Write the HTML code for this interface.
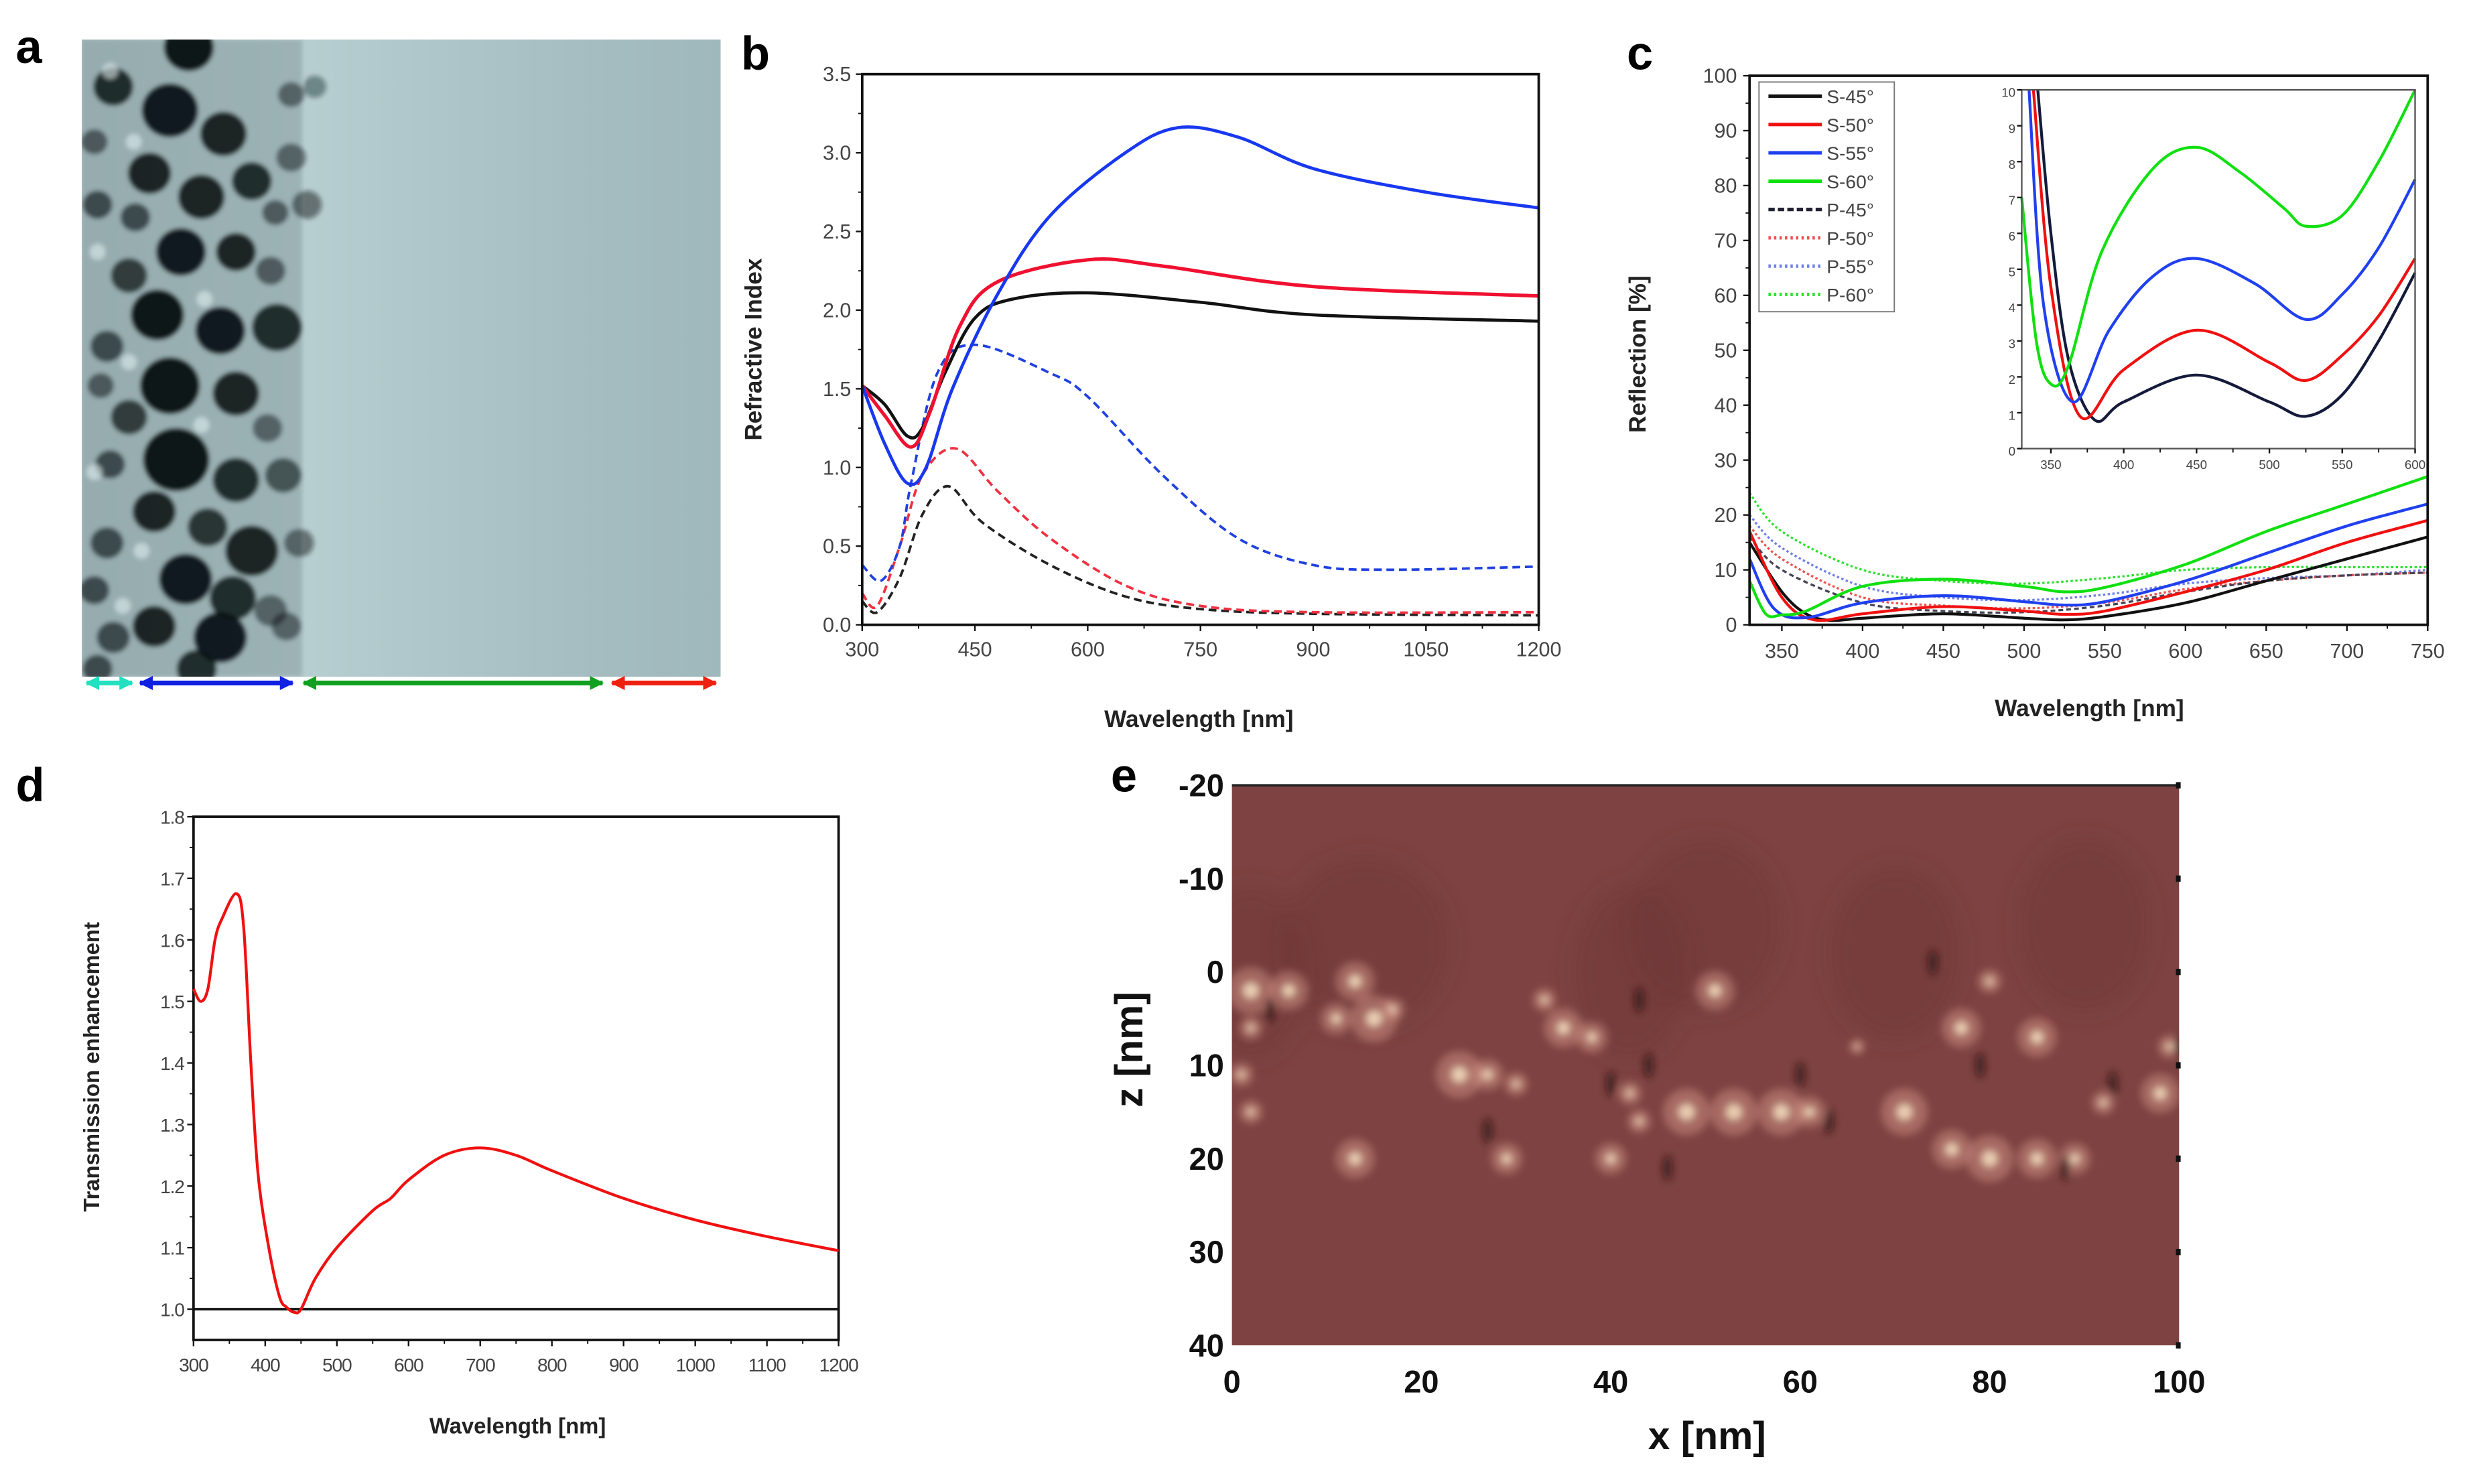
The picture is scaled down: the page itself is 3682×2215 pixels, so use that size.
<!DOCTYPE html>
<html><head><meta charset="utf-8">
<style>
html,body{margin:0;padding:0;background:#fff;}
svg{display:block;}
text{font-family:"Liberation Sans",sans-serif;}
.tick{font-size:13px;fill:#444;}
.ttl{font-size:14px;font-weight:bold;fill:#222;}
.plab{font-size:30px;font-weight:bold;fill:#000;}
</style></head>
<body>
<svg id="fig" width="3682" height="2215" viewBox="0 0 1568 943" xmlns="http://www.w3.org/2000/svg">
<defs>
<linearGradient id="temg" x1="0" x2="1" y1="0" y2="0">
<stop offset="0" stop-color="#a9bfc2"/><stop offset="0.33" stop-color="#b8cfd2"/><stop offset="0.45" stop-color="#b2cacd"/><stop offset="0.8" stop-color="#a5bdc1"/><stop offset="1" stop-color="#9fb8bc"/>
</linearGradient>
<filter id="blur2"><feGaussianBlur stdDeviation="2.5"/></filter>
<filter id="blur1"><feGaussianBlur stdDeviation="1.5"/></filter>
<filter id="blur6"><feGaussianBlur stdDeviation="7"/></filter>
<clipPath id="clipA"><rect x="52" y="25" width="406" height="405"/></clipPath>
<clipPath id="clipE"><rect x="783" y="499" width="602" height="356"/></clipPath>
<marker id="ah" viewBox="0 0 10 10" refX="9" refY="5" markerWidth="3" markerHeight="3" orient="auto-start-reverse"><path d="M0,0L10,5L0,10z" fill="context-stroke"/></marker>
</defs>

<text class="plab" x="10" y="40">a</text>
<text class="plab" x="471" y="44">b</text>
<text class="plab" x="1034" y="44">c</text>
<text class="plab" x="10" y="509">d</text>
<text class="plab" x="706" y="503">e</text>

<g id="panelA">
<rect x="52" y="25" width="406" height="405" fill="url(#temg)"/>
<g id="blobs" clip-path="url(#clipA)" filter="url(#blur1)"></g>
</g>
<g id="arrows"></g>

<g id="panelB"></g>
<g id="panelC"></g>
<g id="panelD"></g>
<g id="panelE"></g>
</svg>
<script>
const NS="http://www.w3.org/2000/svg";
// ---- Panel b data ----
const bBlackSolid=[[300,1.52],[330,1.4],[360,1.2],[380,1.25],[410,1.6],[450,1.95],[500,2.07],[600,2.11],[750,2.05],[900,1.97],[1200,1.93]];
const bRedSolid=[[300,1.52],[330,1.33],[365,1.13],[390,1.35],[430,1.9],[480,2.18],[600,2.32],[700,2.28],[900,2.15],[1200,2.09]];
const bBlueSolid=[[300,1.52],[330,1.15],[360,0.9],[385,1.0],[420,1.5],[480,2.1],[550,2.6],[650,3.0],[720,3.16],[800,3.1],[900,2.9],[1050,2.75],[1200,2.65]];
const bBlueDash=[[300,0.38],[325,0.28],[350,0.5],[365,0.9],[400,1.6],[450,1.78],[550,1.6],[600,1.45],[700,0.95],[800,0.55],[900,0.38],[1000,0.35],[1200,0.37]];
const bRedDash=[[300,0.2],[320,0.12],[350,0.5],[380,0.95],[425,1.12],[480,0.85],[550,0.55],[650,0.25],[750,0.12],[900,0.08],[1200,0.08]];
const bBlackDash=[[300,0.15],[320,0.08],[350,0.3],[380,0.7],[415,0.88],[460,0.65],[550,0.38],[650,0.18],[750,0.1],[900,0.07],[1200,0.06]];
const bXTicks=[300,450,600,750,900,1050,1200];
const bYTicks=[0,0.5,1,1.5,2,2.5,3,3.5];
// ---- Panel c data ----
const cS45=[[330,15],[350,6],[365,2],[380,0.8],[400,1.2],[450,2],[500,1.2],[525,0.9],[550,1.5],[600,4],[650,8],[700,12],[750,16]];
const cS50=[[330,17],[350,5],[370,0.9],[400,2],[450,3.3],[500,2.5],[525,1.9],[550,2.5],[600,6],[650,10],[700,15],[750,19]];
const cS55=[[330,12],[345,3],[365,1.3],[400,4],[450,5.3],[500,4.2],[525,3.6],[550,4.2],[600,8],[650,13],[700,18],[750,22]];
const cS60=[[330,8],[340,2],[350,1.8],[365,2.5],[400,7],[450,8.3],[500,7],[525,6],[550,6.8],[600,11],[650,17],[700,22],[750,27]];
const cP45=[[330,16],[350,10],[400,4],[450,2.5],[500,2.3],[550,3.5],[600,6],[650,8],[700,9],[750,9.5]];
const cP50=[[330,18],[350,12],[400,5],[450,3.5],[500,3],[550,4],[600,6.5],[650,8],[700,9],[750,9.5]];
const cP55=[[330,20],[350,14],[400,7],[450,5],[500,4.5],[550,5.5],[600,7.5],[650,8.5],[700,9],[750,10]];
const cP60=[[330,24],[350,17],[400,10],[450,8],[500,7.5],[550,8.5],[600,10],[650,10.5],[700,10.5],[750,10.5]];
const cXTicks=[350,400,450,500,550,600,650,700,750];
const cYTicks=[0,10,20,30,40,50,60,70,80,90,100];
const iS45=[[341,10],[350,6],[362,2.5],[380,0.8],[400,1.3],[450,2.05],[500,1.3],[525,0.9],[550,1.5],[575,3],[600,4.9]];
const iS50=[[338,10],[350,4.5],[370,0.9],[400,2.2],[450,3.3],[500,2.4],[525,1.9],[550,2.6],[575,3.7],[600,5.3]];
const iS55=[[335,10],[345,4],[365,1.3],[390,3.3],[420,4.8],[450,5.3],[490,4.6],[525,3.6],[550,4.3],[575,5.6],[600,7.5]];
const iS60=[[330,7],[340,3],[350,1.8],[362,2.3],[385,5.5],[420,7.8],[450,8.4],[480,7.7],[510,6.7],[525,6.2],[550,6.5],[575,8],[600,10]];
const iXTicks=[350,400,450,500,550,600];
const iYTicks=[0,1,2,3,4,5,6,7,8,9,10];
const cLegendLabels=["S-45°","S-50°","S-55°","S-60°","P-45°","P-50°","P-55°","P-60°"];
// ---- Panel d data ----
const dSeries=[[300,1.52],[310,1.5],[320,1.52],[330,1.6],[340,1.635],[360,1.675],[370,1.62],[380,1.4],[390,1.22],[405,1.1],[420,1.02],[430,1.003],[440,0.995],[450,1.0],[470,1.05],[500,1.1],[550,1.16],[575,1.18],[600,1.21],[650,1.25],[700,1.262],[750,1.25],[800,1.225],[900,1.18],[1000,1.145],[1100,1.118],[1200,1.095]];
const dXTicks=[300,400,500,600,700,800,900,1000,1100,1200];
const dYTicks=[1.0,1.1,1.2,1.3,1.4,1.5,1.6,1.7,1.8];
// ---- Panel e ticks ----
const eXTicks=[0,20,40,60,80,100];
const eYTicks=[-20,-10,0,10,20,30,40];

function el(tag,attrs,parent){const e=document.createElementNS(NS,tag);for(const k in attrs)e.setAttribute(k,attrs[k]);if(parent)parent.appendChild(e);return e;}
function lin(d0,d1,r0,r1){return v=>r0+(v-d0)*(r1-r0)/(d1-d0);}
function smooth(pts){let d="M"+pts[0][0].toFixed(2)+","+pts[0][1].toFixed(2);
 for(let i=0;i<pts.length-1;i++){const p0=pts[i-1]||pts[i],p1=pts[i],p2=pts[i+1],p3=pts[i+2]||p2;
 const c1=[p1[0]+(p2[0]-p0[0])/6,p1[1]+(p2[1]-p0[1])/6],c2=[p2[0]-(p3[0]-p1[0])/6,p2[1]-(p3[1]-p1[1])/6];
 d+="C"+c1[0].toFixed(2)+","+c1[1].toFixed(2)+" "+c2[0].toFixed(2)+","+c2[1].toFixed(2)+" "+p2[0].toFixed(2)+","+p2[1].toFixed(2);}return d;}
function series(g,data,X,Y,stroke,w,dash,name){const p=el("path",{d:smooth(data.map(d=>[X(d[0]),Y(d[1])])),fill:"none",stroke:stroke,"stroke-width":w},g);
 if(dash)p.setAttribute("stroke-dasharray",dash);
 
 return p;}
function axes(g,x0,y0,x1,y1,X,Y,xt,yt,opt){
 const fr=el("rect",{x:x0,y:y0,width:x1-x0,height:y1-y0,fill:"none",stroke:opt.frame||"#111","stroke-width":opt.fw||1.6},g);
 
 
 xt.forEach((v,i)=>{const x=X(v);el("line",{x1:x,x2:x,y1:y1,y2:y1+(opt.tl||4),stroke:"#111","stroke-width":1},g);
  if(opt.minorX){const xm=X(v+opt.minorX);if(xm<x1)el("line",{x1:xm,x2:xm,y1:y1,y2:y1+2.5,stroke:"#111","stroke-width":0.8},g);}
  const t=el("text",{x:x,y:y1+(opt.xly||18),"text-anchor":"middle",class:opt.cls||"tick"},g);t.textContent=opt.fx?opt.fx(v):v;
  
  });
 yt.forEach(v=>{const y=Y(v);el("line",{x1:x0,x2:x0-(opt.tl||4),y1:y,y2:y,stroke:"#111","stroke-width":1},g);
  if(opt.minorY){const ym=Y(v+opt.minorY);if(ym>=y0-0.5&&ym<=y1+0.5)el("line",{x1:x0,x2:x0-2.5,y1:ym,y2:ym,stroke:"#111","stroke-width":0.8},g);}
  const t=el("text",{x:x0-(opt.ylx||6),y:y+4.5,"text-anchor":"end",class:opt.cls||"tick"},g);t.textContent=opt.fy?opt.fy(v):v;
  
  });
}
function title(g,txt,x,y,rot,name,size){const t=el("text",{x:x,y:y,"text-anchor":"middle",class:"ttl"},g);if(size)t.setAttribute("style","font-size:"+size+"px");
 if(rot)t.setAttribute("transform","rotate(-90 "+x+" "+y+")");t.textContent=txt;
 
 }

// ---- Panel a: TEM blobs ----
(function(){const g=document.getElementById("blobs");
 el("rect",{x:52,y:25,width:140,height:405,fill:"#889ea2","fill-opacity":0.6},g);
 const bl=[[120,30,15,0.98],[72,55,12,0.85],[108,70,17,0.95],[142,85,14,0.9],[95,110,13,0.9],[128,125,14,0.9],[160,115,12,0.85],[185,100,9,0.5],[195,130,9,0.5],[115,160,15,0.95],[150,160,12,0.9],[82,175,11,0.75],[100,200,16,0.98],[140,210,15,0.95],[176,208,15,0.85],[68,220,10,0.65],[108,245,18,0.98],[150,250,14,0.9],[82,265,11,0.75],[112,292,20,0.98],[150,305,14,0.85],[180,302,11,0.6],[98,325,13,0.9],[132,335,12,0.8],[160,350,16,0.9],[190,345,9,0.5],[68,345,10,0.65],[118,368,16,0.95],[148,380,14,0.85],[98,398,13,0.9],[140,405,16,0.95],[172,388,10,0.5],[72,405,10,0.65],[62,130,9,0.65],[70,295,9,0.65],[60,375,9,0.65],[86,138,9,0.65],[172,172,9,0.55],[170,272,9,0.5],[182,398,9,0.5],[200,55,7,0.4],[60,90,8,0.55],[64,245,8,0.55],[62,425,9,0.65],[125,425,12,0.85],[185,60,8,0.5],[175,135,8,0.55]];
 bl.forEach(b=>el("ellipse",{cx:b[0],cy:b[1],rx:b[2]*1.05,ry:b[2],fill:"#0d1416","fill-opacity":b[3]},g));
 [[70,45],[85,90],[62,160],[82,230],[60,300],[90,350],[78,385],[130,190],[128,270]].forEach(b=>el("circle",{cx:b[0],cy:b[1],r:5,fill:"#e0eeee","fill-opacity":0.6},g));
 const a=document.getElementById("arrows");
 [[54,85,"#22e0c0"],[88,187,"#1020e0"],[192,384,"#10a020"],[388,456,"#ee2010"]].forEach(s=>{const l=el("line",{x1:s[0]+1,x2:s[1]-1,y1:434,y2:434,stroke:s[2],"stroke-width":3,"marker-start":"url(#ah)","marker-end":"url(#ah)"},a);
  
  });
})();

// ---- Panel b ----
(function(){const g=document.getElementById("panelB");
 const X=lin(300,1200,548,978),Y=lin(0,3.5,397,47);
 series(g,bBlackDash,X,Y,"#222","1.6","5,3","p-45-dashed");
 series(g,bRedDash,X,Y,"#f03040","1.6","5,3","p-50-dashed");
 series(g,bBlueDash,X,Y,"#2040e0","1.6","5,3","p-55-dashed");
 series(g,bBlackSolid,X,Y,"#111","2","","s-45-solid");
 series(g,bRedSolid,X,Y,"#f01030","2.2","","s-50-solid");
 series(g,bBlueSolid,X,Y,"#1838f0","2","","s-55-solid");
 axes(g,548,47,978,397,X,Y,bXTicks,bYTicks,{minorX:75,minorY:0.25,fy:v=>v.toFixed(1),xly:20,ylx:7});
 title(g,"Wavelength [nm]",762,462,false,"x-axis-title",15);
 title(g,"Refractive Index",484,222,true,"y-axis-title",15);
})();

// ---- Panel c ----
(function(){const g=document.getElementById("panelC");
 const X=lin(330,750,1112,1543),Y=lin(0,100,397,48);
 series(g,cP60,X,Y,"#30e030","1.4","1.5,1.5","p-60");
 series(g,cP55,X,Y,"#7080e8","1.4","1.5,1.5","p-55");
 series(g,cP50,X,Y,"#f05050","1.4","1.5,1.5","p-50");
 series(g,cP45,X,Y,"#445","1.4","3,2","p-45");
 series(g,cS45,X,Y,"#111","1.8","","s-45");
 series(g,cS50,X,Y,"#f01010","1.8","","s-50");
 series(g,cS55,X,Y,"#2040f0","1.8","","s-55");
 series(g,cS60,X,Y,"#10e010","1.8","","s-60");
 axes(g,1112,48,1543,397,X,Y,cXTicks,cYTicks,{minorX:25,minorY:5,xly:21,ylx:8});
 title(g,"Wavelength [nm]",1328,455,false,"x-axis-title",15);
 title(g,"Reflection [%]",1046,225,true,"y-axis-title",15);
 const lg=el("g",{},g);
 el("rect",{x:1118,y:52,width:86,height:146,fill:"#fff",stroke:"#777","stroke-width":0.8},lg);
 const cols=["#111","#f01010","#2040f0","#10e010","#223","#f05050","#7080e8","#30e030"];
 const dashes=["","","","","4,2","1.5,2","1.5,2","1.5,2"];
 cLegendLabels.forEach((lab,i)=>{const y=61+i*18;const l=el("line",{x1:1124,x2:1158,y1:y,y2:y,stroke:cols[i],"stroke-width":2.2},lg);if(dashes[i])l.setAttribute("stroke-dasharray",dashes[i]);
  const t=el("text",{x:1161,y:y+4.5,class:"tick",style:"font-size:12px"},lg);t.textContent=lab;
  
  });
 const ig=el("g",{},g);
 const IX=lin(330,600,1285,1535),IY=lin(0,10,285,57);
 el("rect",{x:1285,y:57,width:250,height:228,fill:"#fff"},ig);
 series(ig,iS45,IX,IY,"#141a3a","1.8","","inset-s-45");
 series(ig,iS50,IX,IY,"#f01010","1.8","","inset-s-50");
 series(ig,iS55,IX,IY,"#2040f0","1.8","","inset-s-55");
 series(ig,iS60,IX,IY,"#10e010","1.8","","inset-s-60");
 axes(ig,1285,57,1535,285,IX,IY,iXTicks,iYTicks,{frame:"#555",fw:1,tl:3,xly:13,ylx:4,cls:"tick",fx:v=>v,minorX:25});
 ig.querySelectorAll("text").forEach(t=>t.setAttribute("style","font-size:8px"));
})();

// ---- Panel d ----
(function(){const g=document.getElementById("panelD");
 const X=lin(300,1200,123,533),Y=lin(1,1.8,832,519);
 const yb=Y(0.95);
 axes(g,123,519,533,yb,X,Y,dXTicks,dYTicks,{minorX:50,minorY:0.05,fy:v=>v.toFixed(1),xly:20,ylx:6});
 const ref=el("line",{x1:123,x2:533,y1:Y(1),y2:Y(1),stroke:"#111","stroke-width":1.6},g);
 
 
 series(g,dSeries,X,Y,"#f01010","1.8","","transmission-curve");
 g.querySelectorAll("text").forEach(t=>t.setAttribute("style","font-size:12px;letter-spacing:-0.5px"));
 title(g,"Wavelength [nm]",329,911,false,"x-axis-title",14);
 title(g,"Transmission enhancement",63,678,true,"y-axis-title",14);
})();

// ---- Panel e ----
(function(){const g=document.getElementById("panelE");
 const X=lin(0,100,783,1385),Y=lin(-20,40,499,855);
 el("rect",{x:783,y:499,width:602,height:356,fill:"#7d4241"},g);
 const cg=el("g",{"clip-path":"url(#clipE)"},g);
 const dk=el("g",{filter:"url(#blur6)"},cg);
 [[2,0,6],[14,-3,9],[42,0,6],[50,-5,8],[70,-2,7],[90,-5,7]].forEach(s=>el("ellipse",{cx:X(s[0]),cy:Y(s[1]),rx:s[2]*6,ry:55,fill:"#6e3636","fill-opacity":0.5},dk));
 const bg=el("g",{filter:"url(#blur2)"},cg);
 const spots=[[2,2,3],[6,2,2.5],[13,1,2.5],[15,5,3],[11,5,2],[17,4,1.5],[1,11,1.5],[2,15,1.5],[24,11,3],[27,11,2],[30,12,1.5],[33,3,1.5],[35,6,2.5],[38,7,2],[13,20,2.5],[29,20,2],[40,20,2],[43,16,1.5],[51,2,2.5],[48,15,3],[53,15,3],[58,15,3],[61,15,2],[71,15,3],[77,6,2.5],[80,1,1.5],[85,7,2.5],[76,19,2.5],[80,20,3],[85,20,2.5],[89,20,2],[92,14,1.5],[98,13,2.5],[99,8,1.5],[42,13,1.5],[66,8,1],[2,6,1.5]];
 spots.forEach(s=>{el("circle",{cx:X(s[0]),cy:Y(s[1]),r:s[2]*5,fill:"#d99a8c","fill-opacity":0.45},bg);
  el("circle",{cx:X(s[0]),cy:Y(s[1]),r:s[2]*1.8,fill:"#fbe8c8","fill-opacity":0.8},bg);});
 [[43,3],[44,10],[60,11],[74,-1],[79,10],[93,12],[4,4],[40,12],[63,16],[27,17],[46,21],[88,21],[100,8]].forEach(s=>el("ellipse",{cx:X(s[0]),cy:Y(s[1]),rx:3,ry:8,fill:"#2a1515","fill-opacity":0.7},bg));
 el("line",{x1:783,x2:1385,y1:499,y2:499,stroke:"#222","stroke-width":1.5},g);
 eXTicks.forEach(v=>{const t=el("text",{x:X(v),y:885,"text-anchor":"middle",style:"font-size:20px;font-weight:bold;fill:#111"},g);t.textContent=v;
  });
 eYTicks.forEach(v=>{const t=el("text",{x:778,y:Y(v)+7,"text-anchor":"end",style:"font-size:20px;font-weight:bold;fill:#111"},g);t.textContent=v;
  
  el("rect",{x:1383,y:Y(v)-2,width:3,height:4,fill:"#111"},g);});
 const xt=el("text",{x:1085,y:921,"text-anchor":"middle",style:"font-size:25px;font-weight:bold;fill:#111"},g);xt.textContent="x [nm]";
 
 const yt=el("text",{x:726,y:667,"text-anchor":"middle",transform:"rotate(-90 726 667)",style:"font-size:25px;font-weight:bold;fill:#111"},g);yt.textContent="z [nm]";
 
})();
</script>
</body></html>
